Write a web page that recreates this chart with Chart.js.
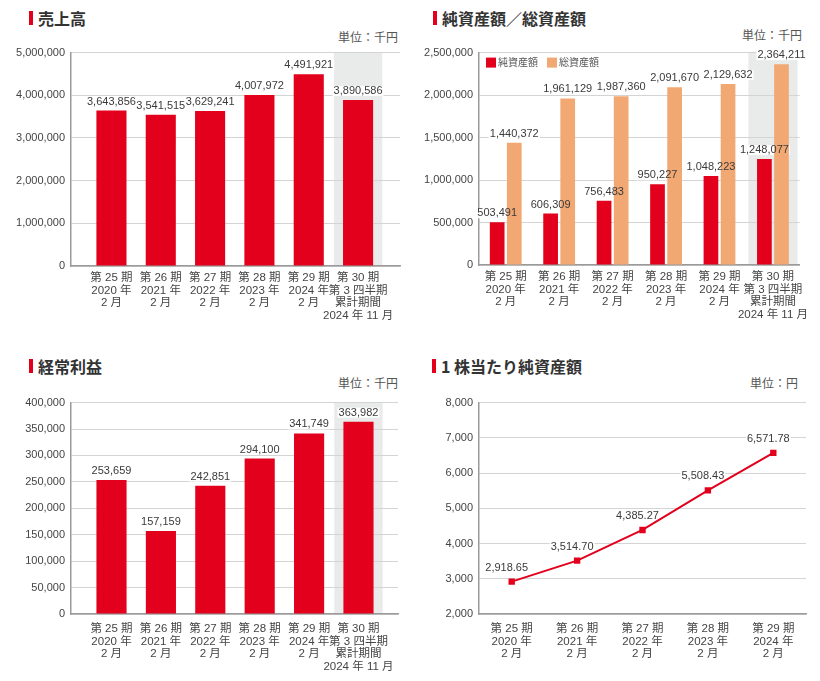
<!DOCTYPE html>
<html lang="ja">
<head>
<meta charset="UTF-8">
<title>業績推移</title>
<script src="https://cdn.jsdelivr.net/npm/chart.js"></script>
<style>
  body { margin:0; background:#fff; }
  #wrap { position:relative; width:820px; height:681px; overflow:hidden; }
  .title { position:absolute; height:20px; display:flex; align-items:center;
           font-family:"Noto Sans CJK JP", sans-serif; font-weight:bold; font-size:16px; color:#333; }
  .title .mark { display:inline-block; width:4px; height:14px; background:#e2001c; margin-right:5px; }
  .unit { position:absolute; font-family:"Noto Sans CJK JP", sans-serif; font-size:12px; color:#555;
          text-align:right; width:120px; line-height:14px; }
  canvas { position:absolute; }
</style>
</head>
<body>
<div id="wrap">
  <div class="title" style="left:29px;top:8px"><span class="mark"></span>売上高</div>
  <div class="unit" style="left:278px;top:30px">単位：千円</div>
  <canvas id="salesChart" width="405" height="300" style="left:0;top:40px"></canvas>

  <div class="title" style="left:433px;top:8px"><span class="mark"></span>純資産額／総資産額</div>
  <div class="unit" style="left:682px;top:28px">単位：千円</div>
  <canvas id="assetChart" width="405" height="300" style="left:410px;top:40px"></canvas>

  <div class="title" style="left:29px;top:356px"><span class="mark"></span>経常利益</div>
  <div class="unit" style="left:278px;top:376px">単位：千円</div>
  <canvas id="profitChart" width="405" height="291" style="left:0;top:390px"></canvas>

  <div class="title" style="left:432px;top:356px"><span class="mark"></span>1 株当たり純資産額</div>
  <div class="unit" style="left:678px;top:376px">単位：円</div>
  <canvas id="bpsChart" width="405" height="291" style="left:410px;top:390px"></canvas>
</div>

<script>
// データ
const periods = [
    ['第 25 期', '2020 年', '2 月'],
    ['第 26 期', '2021 年', '2 月'],
    ['第 27 期', '2022 年', '2 月'],
    ['第 28 期', '2023 年', '2 月'],
    ['第 29 期', '2024 年', '2 月'],
    ['第 30 期', '第 3 四半期', '累計期間', '2024 年 11 月']
];
const sales = [3643856, 3541515, 3629241, 4007972, 4491921, 3890586];
const netAssets = [503491, 606309, 756483, 950227, 1048223, 1248077];
const totalAssets = [1440372, 1961129, 1987360, 2091670, 2129632, 2364211];
const ordinaryProfit = [253659, 157159, 242851, 294100, 341749, 363982];
const bpsPeriods = periods.slice(0, 5);
const bps = [2918.65, 3514.70, 4385.27, 5508.43, 6571.78];

const RED = '#e2001c';
const ORANGE = '#f2a872';
const NUM_FONT = '"Liberation Sans", Arial, sans-serif';
const JP_FONT = '"Liberation Sans", "Noto Sans CJK JP", sans-serif';

Chart.defaults.font.family = NUM_FONT;
Chart.defaults.animation = false;

// 最終期の背景（グレー）
const bandPlugin = {
    id: 'band',
    beforeDraw(chart, args, opts) {
        if (opts.index == null) return;
        const x = chart.scales.x, a = chart.chartArea, ctx = chart.ctx;
        const l = Math.max(a.left, x.getPixelForValue(opts.index - opts.half));
        const r = Math.min(a.right, x.getPixelForValue(opts.index + opts.half));
        ctx.save();
        ctx.fillStyle = '#e9ebeb';
        ctx.fillRect(l, a.top, r - l, a.bottom - a.top);
        ctx.restore();
    }
};

// 値ラベル（白い下地はグリッド線だけを消す → バーの前に描く）
const labelText = (opts, v) => {
    const val = typeof v === 'object' ? v.y : v;
    return opts.decimals
        ? val.toLocaleString('en-US', {minimumFractionDigits: 2, maximumFractionDigits: 2})
        : val.toLocaleString('en-US');
};
const eachLabel = (chart, opts, fn) => {
    chart.data.datasets.forEach((ds, di) => {
        chart.getDatasetMeta(di).data.forEach((el, i) => {
            fn(labelText(opts, ds.data[i]), el.x + (opts.dx || 0), el.y + (opts.dy || -9));
        });
    });
};
const valueLabels = {
    id: 'valueLabels',
    beforeDatasetsDraw(chart, args, opts) {
        const ctx = chart.ctx;
        ctx.save();
        ctx.font = '11px ' + NUM_FONT;
        ctx.fillStyle = '#fff';
        eachLabel(chart, opts, (txt, x, y) => {
            const w = ctx.measureText(txt).width;
            ctx.fillRect(x - w / 2 - 1, y - 5, w + 2, 10);
        });
        ctx.restore();
    },
    afterDatasetsDraw(chart, args, opts) {
        const ctx = chart.ctx;
        ctx.save();
        ctx.font = '11px ' + NUM_FONT;
        ctx.textAlign = 'center';
        ctx.textBaseline = 'middle';
        ctx.fillStyle = '#3a3a3a';
        eachLabel(chart, opts, (txt, x, y) => ctx.fillText(txt, x, y));
        ctx.restore();
    }
};

// 凡例（チャートエリア内）
const innerLegend = {
    id: 'innerLegend',
    afterDraw(chart, args, opts) {
        if (!opts.show) return;
        const ctx = chart.ctx, a = chart.chartArea;
        let x = a.left + 7;
        const y = a.top + 5;
        ctx.save();
        ctx.font = '10px "Noto Sans CJK JP", sans-serif';
        ctx.textBaseline = 'middle';
        chart.data.datasets.forEach(ds => {
            ctx.fillStyle = ds.backgroundColor;
            ctx.fillRect(x, y, 10, 10);
            ctx.fillStyle = '#555';
            ctx.fillText(ds.label, x + 12, y + 5);
            x += 12 + ctx.measureText(ds.label).width + 9;
        });
        ctx.restore();
    }
};

const yAxis = (max, step, width) => ({
    min: 0, max: max,
    ticks: { stepSize: step, padding: 6, color: '#444', font: { size: 11 },
             callback: v => v.toLocaleString('en-US') },
    grid: { color: '#d4d4d4', drawTicks: false },
    border: { color: '#9a9a9a', width: 1.5 },
    afterFit: s => { s.width = width; }
});

const xLabelTicks = pad => ({ autoSkip: false, maxRotation: 0, minRotation: 0, padding: pad, color: '#444',
                              font: { size: 11.5, family: JP_FONT, lineHeight: 1.08 } });

const drawBarChart = (id, datasets, o) => {
    const ctx = document.querySelector(id).getContext('2d');
    return new Chart(ctx, {
        type: 'bar',
        data: { datasets: datasets },
        options: {
            responsive: false,
            layout: { padding: { top: o.top, right: o.right, left: 0, bottom: 0 } },
            scales: {
                x: {
                    type: 'linear', min: o.xMin, max: o.xMax, offset: false,
                    grid: { display: false, drawTicks: false, offset: false },
                    border: { display: true, color: '#9a9a9a', width: 1.5 },
                    afterBuildTicks: s => { s.ticks = periods.map((p, i) => ({ value: i })); },
                    ticks: Object.assign({ callback: v => periods[v] }, xLabelTicks(o.pad)),
                    afterFit: s => { s.height = o.xHeight; }
                },
                y: yAxis(o.yMax, o.step, o.yWidth)
            },
            plugins: {
                legend: { display: false },
                tooltip: { enabled: false },
                band: { index: 5, half: o.half },
                valueLabels: { dy: -9 },
                innerLegend: { show: o.legend }
            }
        },
        plugins: [bandPlugin, valueLabels, innerLegend]
    });
};

const toXY = arr => arr.map((v, i) => ({ x: i, y: v }));

drawBarChart('#salesChart', [{
    label: '売上高', data: toXY(sales), backgroundColor: RED,
    categoryPercentage: 0.61, barPercentage: 1
}], { top: 7, right: 5, xMin: -0.82, xMax: 5.85, xHeight: 74, pad: 6, yMax: 5000000, step: 1000000, yWidth: 71, half: 0.49 });

drawBarChart('#assetChart', [
    { label: '純資産額', data: toXY(netAssets), backgroundColor: RED, categoryPercentage: 0.64, barPercentage: 0.86 },
    { label: '総資産額', data: toXY(totalAssets), backgroundColor: ORANGE, categoryPercentage: 0.64, barPercentage: 0.86 }
], { top: 8, right: 12, xMin: -0.5, xMax: 5.5, xHeight: 75, pad: 6, yMax: 2500000, step: 500000, yWidth: 69, half: 0.46, legend: true });

drawBarChart('#profitChart', [{
    label: '経常利益', data: toXY(ordinaryProfit), backgroundColor: RED,
    categoryPercentage: 0.61, barPercentage: 1
}], { top: 7, right: 7, xMin: -0.82, xMax: 5.8, xHeight: 67, pad: 9, yMax: 400000, step: 50000, yWidth: 71, half: 0.49 });

// 1株当たり純資産額（折れ線）
new Chart(document.querySelector('#bpsChart').getContext('2d'), {
    type: 'line',
    data: {
        labels: bpsPeriods,
        datasets: [{
            label: '1 株当たり純資産額', data: bps,
            borderColor: RED, borderWidth: 2, tension: 0,
            pointStyle: 'rect', pointRadius: 4.5, pointBackgroundColor: RED, pointBorderWidth: 0
        }]
    },
    options: {
        responsive: false,
        layout: { padding: { top: 8, right: 9, left: 0, bottom: 0 } },
        scales: {
            x: {
                offset: true,
                grid: { display: false, drawTicks: false },
                border: { display: true, color: '#9a9a9a', width: 1.5 },
                ticks: xLabelTicks(9),
                afterFit: s => { s.height = 67; }
            },
            y: Object.assign(yAxis(8000, 1000, 69), { min: 2000 })
        },
        plugins: {
            legend: { display: false },
            tooltip: { enabled: false },
            valueLabels: { dx: -5, dy: -14, decimals: true }
        }
    },
    plugins: [valueLabels]
});
</script>
</body>
</html>
